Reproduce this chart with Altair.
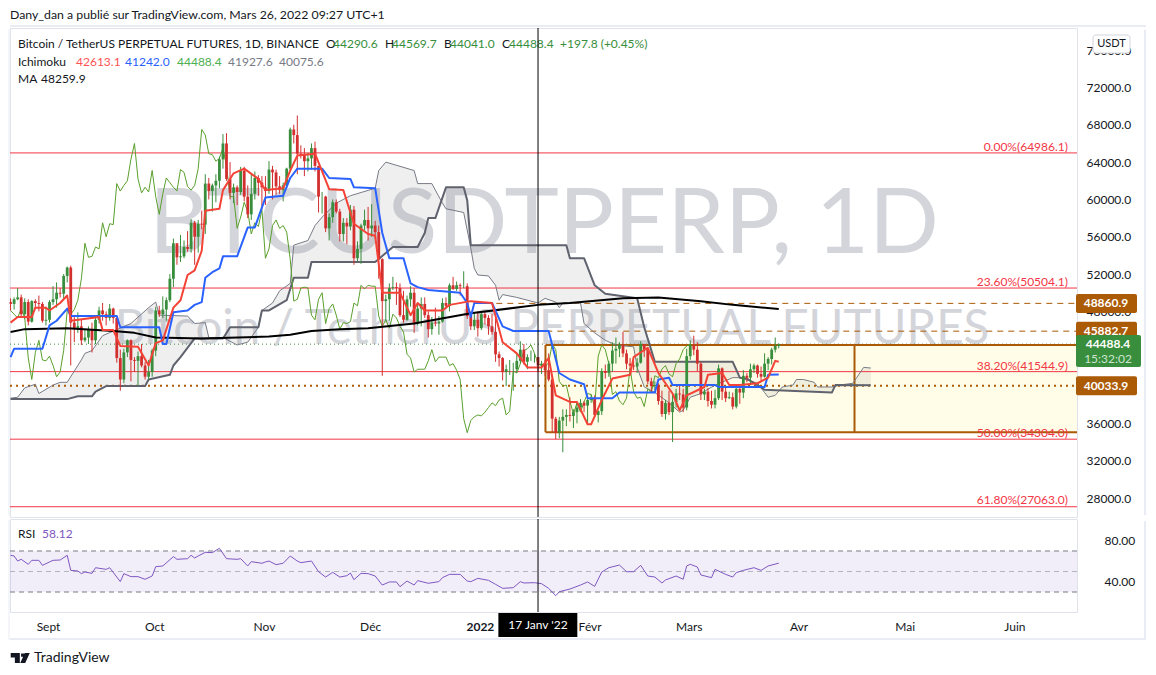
import altair as alt
import pandas as pd

FONT = "Lato"
INK = "#131722"
GREEN = "#388e3c"
RED = "#d32f2f"
BROWN = "#ab5a06"
FIB = "#f23645"
FRAME = "#e9ecf3"

# daily closes, highs, lows in hundreds of USDT from 21 Aug 2021 to 26 Mar 2022
closes = [488,493,495,477,490,469,491,489,488,470,471,
 490,493,500,499,518,527,468,461,464,449,452,461,449,471,481,477,473,483,473,430,407,436,449,428,427,432,422,410,415,438,
 481,477,482,492,515,553,538,539,549,547,575,560,574,573,617,609,615,620,643,660,622,607,613,608,631,603,584,606,623,618,613,
 609,632,629,614,610,615,633,675,669,649,648,641,644,655,636,603,603,569,581,597,587,563,575,571,589,537,547,572,578,569,
 572,565,536,491,493,505,506,505,476,471,493,500,467,483,488,476,461,468,467,469,489,486,508,504,508,507,507,475,464,471,462,
 477,473,464,458,434,430,415,418,418,418,427,439,426,431,431,431,422,424,417,407,365,350,363,367,369,368,372,377,382,379,385,
 387,369,373,416,414,424,438,440,444,435,424,422,421,425,445,439,405,400,401,384,370,382,372,383,392,391,377,432,
 444,439,424,391,394,384,380,387,419,394,387,388,378,397,393,411,409,418,422,413,410,424,429,439,443,444.9]
highs = [494,495,505,498,494,493,492,493,497,490,485,
 492,507,511,505,520,528,529,474,479,472,460,464,468,473,485,489,480,488,484,473,439,440,450,450,431,437,445,426,428,440,
 485,486,496,495,520,558,553,562,556,566,579,577,578,588,627,623,617,627,646,670,671,640,617,615,635,635,615,627,630,626,625,
 625,641,636,632,625,618,634,677,680,690,658,655,650,660,662,636,608,604,585,600,600,590,580,580,594,593,555,574,589,592,
 595,577,572,537,498,510,517,511,510,502,497,507,505,488,495,495,480,474,484,475,494,495,510,517,512,510,523,510,480,479,480,
 479,480,476,477,476,437,431,423,428,425,434,448,445,434,438,435,431,427,428,435,412,367,367,375,375,388,375,382,386,384,387,
 391,390,374,419,423,427,447,452,447,458,439,430,428,430,448,445,441,409,405,403,395,385,395,392,397,401,397,440,
 449,454,447,426,397,398,395,396,423,420,400,394,393,400,398,417,414,424,424,423,421,435,431,441,452,445.7]
lows = [481,482,492,473,472,465,468,483,480,468,465,
 468,487,484,495,494,511,422,447,457,444,447,445,436,445,467,470,465,470,467,425,395,403,431,405,415,400,420,407,407,410,
 432,474,473,470,490,506,530,533,537,544,543,530,543,568,563,600,587,597,612,633,620,600,596,594,605,598,580,578,600,604,590,
 594,606,600,605,606,598,612,630,660,627,644,625,630,632,630,586,585,565,556,575,585,555,555,552,567,530,534,531,567,556,
 560,558,515,411,470,470,503,487,474,468,470,485,457,465,464,473,452,455,464,455,468,483,480,503,502,497,505,472,460,460,453,
 460,466,455,455,426,421,406,400,412,395,414,424,423,418,427,425,416,413,411,405,350,343,344,329,357,362,355,360,375,372,360,
 382,366,361,369,408,410,415,424,431,431,418,416,417,414,424,431,402,394,396,380,367,364,369,340,377,385,372,374,
 428,433,416,385,385,378,376,376,385,385,383,386,375,376,381,387,404,401,414,409,405,409,417,423,436,440.4]
first_open = 490

# line vertices: day counted from 1 Sep 2021, price in hundreds
kijun_d = [-11,-10,-2,0,2,5,6,19,20,31,32,33,35,39,41,43,44,46,48,49,53,56,58,61,66,68,70,77,79,85,86,92,94,96,100,102,104,107,116,118,119,120,125,128,131,141,144,147,151,152,159,161,171,172,175,176,188,189,202,203,206]
kijun_p = [431,440,440,465,470,483,475,475,463,463,445,445,479,481,487,490,516,522,526,539,539,570,570,602,604,623,633,633,623,622,613,612,564,537,537,510,506,503,500,489,474,489,489,464,459,459,414,407,402,387,387,393,393,407,409,401,401,399,399,412,412.4]
tenkan_d = [-11,-9,-5,-4,-1,0,3,5,6,14,15,18,20,25,28,30,32,35,37,39,41,43,44,48,49,52,55,59,61,66,68,70,75,79,83,86,90,92,94,99,102,104,106,111,113,119,125,128,132,135,139,141,143,147,149,152,153,156,159,164,165,169,172,176,178,180,185,186,190,192,195,200,203,205,206]
tenkan_p = [468,474,474,484,484,481,489,497,470,474,460,460,443,442,422,446,449,484,492,519,524,545,588,590,610,628,633,622,610,612,631,647,649,611,610,574,563,561,500,500,476,489,481,481,487,491,489,447,435,420,420,430,390,383,383,359,359,385,408,412,431,441,414,392,374,390,399,412,414,401,401,403,409,427,426.1]
senkou_b_d = [-11,5,8,12,13,16,27,28,34,35,37,41,49,51,59,60,62,67,69,73,74,92,97,104,106,107,109,112,117,118,119,146,147,151,154,157,166,168,171,193,195,197,202,221,222,232]
senkou_b_p = [386,386,389,389,394,400,400,407,412,422,431,451,451,463,463,481,481,492,516,516,533,533,549,549,564,580,580,613,613,599,551,551,537,537,508,499,494,463,426,426,409,408,396,393,401,400.8]
senkou_a_d = [-11,-9,-7,-4,-3,1,3,5,9,10,12,15,23,28,30,31,39,41,44,45,49,53,56,59,60,63,65,68,69,73,75,77,81,85,92,93,95,103,104,108,111,112,117,119,120,121,124,126,127,128,132,138,140,143,144,145,150,151,154,157,160,165,166,168,171,175,178,179,181,184,188,193,195,200,202,203,205,207,210,211,213,216,217,221,223,227,228,230,232]
senkou_a_p = [387,388,398,402,392,401,404,404,428,435,438,454,467,484,490,476,475,467,468,452,452,444,447,463,481,489,502,510,551,556,572,581,596,604,612,631,640,631,617,617,596,590,586,548,526,519,518,508,492,498,495,489,494,490,484,489,489,467,457,449,444,442,420,399,393,382,372,374,388,392,401,409,409,403,393,388,390,399,401,407,407,404,399,399,401,403,409,420,419.3]
ma_d = [-11,-7,5,18,24,30,43,62,68,74,82,90,103,119,138,147,162,172,184,193,206]
ma_p = [458,461,462,459,457,452,451,453,455,459,461,462,467,478,487,489,494,495,491,487,482.6]
rsi_d = [-11,-10,-9,-8,-6,-5,-3,-2,0,1,3,5,6,8,9,10,12,13,16,17,20,21,23,25,27,29,30,32,35,36,39,40,41,42,44,46,48,50,53,54,56,57,60,61,62,64,66,68,70,71,74,76,78,80,82,84,85,86,88,90,92,94,96,98,99,101,103,104,107,110,111,113,116,118,119,121,124,126,128,131,133,134,137,139,141,143,144,147,150,152,154,156,158,161,163,165,167,169,171,173,174,177,179,180,181,183,184,187,188,191,193,194,196,199,201,203,206]
rsi_v = [65.8,65.1,60.2,61.9,57,60.9,60.9,56,59.3,60.9,61.2,65.8,51.1,50.5,47.9,49.5,48.2,53.7,52.1,53.7,40.1,47.9,45,45,42.4,45.6,54.7,55.4,64.5,61.9,62.5,65.8,63.2,65.1,68.7,68.4,72.6,62.5,61.9,62.5,55.4,59.6,58,59.3,60.2,56.7,58,65.1,60.2,58.6,60.2,49.8,44.6,49.2,44.6,45.9,48.5,42,48.2,47.9,45.6,36.8,39.8,39.8,35.2,40.7,36.8,41.1,38.5,40.1,44,47.2,47.2,40.7,40.1,43.3,41.4,37.5,33.6,34.2,40.1,38.8,39.1,38.1,33.6,26.4,30.3,32.9,36.8,39.8,35.5,49.5,53.7,56.3,49.8,49.8,56,45.6,44.6,38.8,41.7,45.6,42.4,55.4,57,54.4,46.6,44,52.1,47.2,44.6,48.9,51.1,53.7,51.1,55.4,58.12]

fib_levels = [64986.1,50504.1,41544.9,34304.0,27063.0]
fib_labels = ["0.00%(64986.1)","23.60%(50504.1)","38.20%(41544.9)","50.00%(34304.0)","61.80%(27063.0)"]
price_ticks = list(range(28000,80000,4000))
month_days = [0,30,61,91,122,153,181,212,242,273]
month_names = ["Sept","Oct","Nov","Déc","2022","Févr","Mars","Avr","Mai","Juin"]

xs = alt.Scale(domain=[-11.16,290.25], nice=False, zero=False)
ys = alt.Scale(domain=[25964,78375], nice=False, zero=False)
rs = alt.Scale(domain=[10.5,101.2], nice=False, zero=False)
price_axis = alt.Axis(orient="right", values=price_ticks, format=".1f", ticks=False, domain=False,
        grid=False, labelColor=INK, labelFontSize=12, labelFont=FONT, labelPadding=9, labelOverlap=False, title=None)
X = alt.X("d:Q", scale=xs, axis=None)
Y = alt.Y("p:Q", scale=ys, axis=price_axis)

def pts(days, vals):
    return pd.DataFrame({"d": days, "p": [v*100 for v in vals]})

def line(days, vals, color, width):
    return alt.Chart(pts(days, vals)).mark_line(color=color, strokeWidth=width, interpolate="linear", strokeJoin="round").encode(X, Y)

def txt(s, x, y, color=INK, size=12, weight="normal", align="left", opacity=1, font=FONT):
    return alt.Chart(pd.DataFrame({"a":[0]})).mark_text(text=s, color=color, fontSize=size, fontWeight=weight,
        align=align, baseline="middle", font=font, opacity=opacity).encode(x=alt.value(x), y=alt.value(y))

def hrule(price, color, width, dash=None, start=None):
    kw = {"strokeDash": dash} if dash else {}
    df = pd.DataFrame({"p":[price], "d":[start if start is not None else -11.16], "d2":[290.25]})
    return alt.Chart(df).mark_rule(color=color, strokeWidth=width, **kw).encode(X, alt.X2("d2:Q"), Y)

def box(x0, x1, y0, y1, fill, **kw):
    df = pd.DataFrame({"p":[y0], "p2":[y1]})
    return alt.Chart(df).mark_rect(fill=fill, **kw).encode(x=alt.value(x0), x2=alt.value(x1), y=Y, y2=alt.Y2("p2:Q"))

def vframe(x, y0, y1, color=FRAME, width=2):
    return alt.Chart(pd.DataFrame({"a":[0]})).mark_rule(color=color, strokeWidth=width).encode(
        x=alt.value(x), y=alt.value(y0), y2=alt.value(y1))

def hframe(y, x0=0, x1=1136, color=FRAME, width=2):
    return alt.Chart(pd.DataFrame({"a":[0]})).mark_rule(color=color, strokeWidth=width).encode(
        y=alt.value(y), x=alt.value(x0), x2=alt.value(x1))

# candles
opens = [first_open] + closes[:-1]
days = list(range(-11, len(closes)-11))
candles = pd.DataFrame({"d":days, "o":[v*100 for v in opens], "c":[v*100 for v in closes],
                        "h":[v*100 for v in highs], "l":[v*100 for v in lows]})
candles["dir"] = ["up" if c >= o else "down" for o, c in zip(candles.o, candles.c)]
cc = alt.Color("dir:N", scale=alt.Scale(domain=["up","down"], range=[GREEN, RED]), legend=None)
wicks = alt.Chart(candles).mark_rule(strokeWidth=1).encode(X, alt.Y("h:Q", scale=ys, axis=price_axis), alt.Y2("l:Q"), color=cc)
bodies = alt.Chart(candles).mark_rule(strokeWidth=2.8).encode(X, alt.Y("o:Q", scale=ys, axis=price_axis), alt.Y2("c:Q"), color=cc)

# lagging line: closes displaced 25 bars back
chikou = line([d-25 for d in days[25:]], closes[25:], "#5aa02c", 1)

# cloud polygon: span A forward then span B backward
poly = pd.DataFrame({
    "d": senkou_a_d + senkou_b_d[::-1],
    "p": [v*100 for v in senkou_a_p] + [v*100 for v in senkou_b_p[::-1]],
})
poly["i"] = range(len(poly))
cloud = alt.Chart(poly).mark_line(fill="#787b86", fillOpacity=0.12, strokeWidth=0, stroke="transparent", strokeJoin="round").encode(
    X, Y, order=alt.Order("i:Q"))

zone = pd.DataFrame({"d":[140.1],"d2":[290.25],"p":[44400],"p2":[35060]})
zone_fill = alt.Chart(zone).mark_rect(fill="#fffde7").encode(X, alt.X2("d2:Q"), Y, alt.Y2("p2:Q"))
zone_top = hrule(44400, BROWN, 2, start=140.1)
zone_bot = hrule(35060, BROWN, 2, start=140.1)
zone_edges = alt.Chart(pd.DataFrame({"d":[140.1,227.4],"p":[44400,44400],"p2":[35060,35060]})).mark_rule(color=BROWN, strokeWidth=2).encode(X, Y, alt.Y2("p2:Q"))

cross = alt.Chart(pd.DataFrame({"d":[138]})).mark_rule(color="#000000", strokeWidth=1).encode(X)

main_layers = [
    txt("BTCUSDTPERP, 1D", 534, 197, "#d3d5da", 92, align="center"),
    txt("Bitcoin / TetherUS PERPETUAL FUTURES", 542, 302, "#d3d5da", 47.5, align="center"),
    zone_fill,
    cloud,
] + [hrule(v, FIB, 1) for v in fib_levels] + [
    hrule(48860.9, BROWN, 1, [6,5], start=120),
    hrule(45882.7, BROWN, 1, [6,5], start=131),
    hrule(40033.9, BROWN, 2, [2,4]),
    hrule(44488.4, GREEN, 1, [1,3]),
    zone_top, zone_bot, zone_edges,
    line(senkou_a_d, senkou_a_p, "#787b86", 1),
    line(senkou_b_d, senkou_b_p, "#60636e", 2),
    chikou,
    wicks, bodies,
    line(ma_d, ma_p, "#000000", 2),
    line(kijun_d, kijun_p, "#2962ff", 2),
    line(tenkan_d, tenkan_p, "#f44336", 2),
]
# fib labels
for lab, v, px in zip(fib_labels, fib_levels, [119,254,338,405,472]):
    main_layers.append(txt(lab, 1058, px-0, FIB, 12, align="right"))
# legend rows
leg = [("Bitcoin / TetherUS PERPETUAL FUTURES, 1D, BINANCE",8,16,INK),("O",316,16,INK),("44290.6",323,16,GREEN),("H",375,16,INK),("44569.7",382,16,GREEN),
       ("B",434,16,INK),("44041.0",440,16,GREEN),("C",492,16,INK),("44488.4",499,16,GREEN),("+197.8 (+0.45%)",550,16,GREEN),
       ("Ichimoku",8,34,INK),("42613.1",66,34,"#ff5252"),("41242.0",115,34,"#2962ff"),("44488.4",167,34,"#4caf50"),("41927.6",218,34,"#787b86"),("40075.6",269,34,"#787b86"),
       ("MA",8,51,INK),("48259.9",31,51,INK)]
main_layers += [txt(*r[:3], r[3]) for r in leg]
main_layers += [cross]
# price tags
for lo, hi, label in [(47840,49870,"48860.9"),(44900,46900,"45882.7"),(39020,41050,"40033.9")]:
    main_layers.append(box(1066, 1127, lo, hi, BROWN, cornerRadius=2))
    main_layers.append(alt.Chart(pd.DataFrame({"p":[(lo+hi)/2]})).mark_text(text=label, color="#ffffff", fontSize=12, fontWeight="bold", font=FONT, align="center", baseline="middle").encode(x=alt.value(1096), y=Y))
main_layers.append(box(1066, 1131, 42040, 45470, GREEN, cornerRadius=2))
main_layers.append(alt.Chart(pd.DataFrame({"p":[44488.4]})).mark_text(text="44488.4", color="#ffffff", fontSize=12, fontWeight="bold", font=FONT, align="center", baseline="middle").encode(x=alt.value(1098), y=Y))
main_layers.append(alt.Chart(pd.DataFrame({"p":[42950]})).mark_text(text="15:32:02", color="#cfe5d0", fontSize=12, font=FONT, align="center", baseline="middle").encode(x=alt.value(1098), y=Y))
# USDT button
main_layers.append(alt.Chart(pd.DataFrame({"a":[0]})).mark_rect(fill="#ffffff", stroke="#d1d4dc", cornerRadius=3).encode(x=alt.value(1083), x2=alt.value(1120), y=alt.value(7), y2=alt.value(25)))
main_layers.append(txt("USDT", 1101.5, 16, INK, 11, align="center"))
main_layers += [vframe(-1, 1, 488, width=1), vframe(1135, 2, 487)]

main = alt.layer(*main_layers).properties(width=1067, height=489, view=alt.ViewBackground(stroke="#e0e3eb"))

# RSI panel
RX = alt.X("d:Q", scale=xs, axis=alt.Axis(values=month_days, grid=False, ticks=False, domain=False, labelColor=INK, labelFontSize=12, labelFont=FONT,
    labelPadding=9, labelOffset=-1.5, labelOverlap=False, title=None,
    labelFontWeight=alt.condition("datum.value == 122", alt.value("bold"), alt.value("normal")),
    labelExpr="['" + "','".join(month_names) + "'][indexof(" + str(month_days) + ", datum.value)]"))
RY = alt.Y("p:Q", scale=rs, axis=alt.Axis(orient="right", values=[80,40], format=".2f", ticks=False, domain=False, grid=False,
    labelColor=INK, labelFontSize=12, labelFont=FONT, labelPadding=27, title=None))
band = pd.DataFrame({"d":[-11.16],"d2":[290.25],"p":[70],"p2":[30]})
def rlevel(v, color):
    return alt.Chart(pd.DataFrame({"d":[-11.16],"d2":[290.25],"p":[v]})).mark_rule(color=color, strokeWidth=1, strokeDash=[5,4]).encode(RX, alt.X2("d2:Q"), RY)

rsi_layers = [
    alt.Chart(band).mark_rect(fill="#7e57c2", opacity=0.1).encode(RX, alt.X2("d2:Q"), RY, alt.Y2("p2:Q")),
    rlevel(70, "#787b86"), rlevel(50, "#b2b5be"), rlevel(30, "#787b86"),
    alt.Chart(pd.DataFrame({"d":rsi_d,"p":rsi_v})).mark_line(color="#7e57c2", strokeWidth=1, strokeJoin="round").encode(RX, RY),
    txt("RSI", 8, 15), txt("58.12", 32, 15, "#7e57c2"),
    alt.Chart(pd.DataFrame({"d":[138]})).mark_rule(color="#000000", strokeWidth=1).encode(RX),
    alt.Chart(pd.DataFrame({"d":[126.8],"d2":[149.1]})).mark_rect(fill="#000000").encode(RX, alt.X2("d2:Q"), y=alt.value(94), y2=alt.value(118)),
    alt.Chart(pd.DataFrame({"d":[138]})).mark_text(text="17 Janv '22", color="#ffffff", fontSize=12, font=FONT, align="center", baseline="middle").encode(RX, y=alt.value(106)),
    vframe(-1, 1, 121, width=1), vframe(1135, 2, 121), hframe(120),
    alt.Chart(pd.DataFrame({"a":[0]})).mark_point(filled=True, color="#131722", size=275, opacity=1,
        shape="M-1 -0.6 H0.1 V0.6 H-0.5 V-0.05 H-1 Z M0.25 -0.55 H0.65 V-0.15 H0.25 Z M1.3 -0.6 L0.75 0.6 H0.15 L0.7 -0.6 Z").encode(x=alt.value(9), y=alt.value(139)),
    txt("TradingView", 24, 139, INK, 14),
]
rsi = alt.layer(*rsi_layers).properties(width=1067, height=93, view=alt.ViewBackground(stroke="#e0e3eb"))

header = alt.layer(
    txt("Dany_dan a publié sur TradingView.com, Mars 26, 2022 09:27 UTC+1", 0, 7, INK, 12.3),
    hframe(18),
).properties(width=1067, height=18, view=alt.ViewBackground(stroke=None))

chart = alt.vconcat(header, main, rsi, spacing=0).properties(padding=0, background="#ffffff").resolve_scale(color="independent")
chart.save("out.html", embed_options={"renderer": "svg", "actions": False})
